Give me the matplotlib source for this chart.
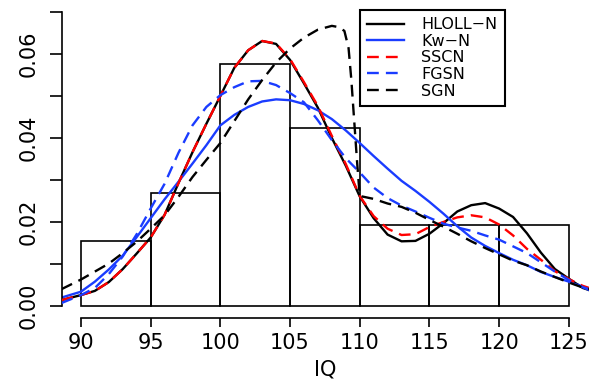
import matplotlib
matplotlib.use("Agg")
import matplotlib.pyplot as plt

# histogram of IQ (density scale)
bin_edges = [90, 95, 100, 105, 110, 115, 120, 125]
bin_density = [0.0154, 0.0269, 0.0577, 0.0423, 0.0192, 0.0192, 0.0192]

# fitted densities
iq = [88.6, 90, 91, 92, 93, 94, 95, 96, 97, 98, 99, 100, 101, 102, 103, 104, 105,
      106, 107, 108, 109, 110, 111, 112, 113, 114, 115, 116, 117, 118, 119, 120,
      121, 122, 123, 124, 125, 126, 126.45]
hloll_n = [0.0014, 0.0026, 0.0036, 0.0057, 0.0088, 0.0125, 0.0163, 0.0217, 0.0293,
           0.0366, 0.0434, 0.0500, 0.0567, 0.0609, 0.0631, 0.0624, 0.0586, 0.0530,
           0.0472, 0.0400, 0.0334, 0.0261, 0.0209, 0.0170, 0.0154, 0.0155, 0.0172,
           0.0197, 0.0225, 0.0240, 0.0245, 0.0232, 0.0212, 0.0173, 0.0127, 0.0088,
           0.0065, 0.0043, 0.0038]
sscn = [0.0014, 0.0026, 0.0036, 0.0057, 0.0088, 0.0125, 0.0163, 0.0217, 0.0293,
        0.0366, 0.0434, 0.0500, 0.0567, 0.0609, 0.0631, 0.0625, 0.0588, 0.0533,
        0.0476, 0.0405, 0.0338, 0.0262, 0.0214, 0.0184, 0.0169, 0.0171, 0.0188,
        0.0200, 0.0211, 0.0216, 0.0211, 0.0194, 0.0168, 0.0136, 0.0110, 0.0083,
        0.0064, 0.0048, 0.0043]
kw_n = [0.0020, 0.0034, 0.0058, 0.0087, 0.0120, 0.0164, 0.0209, 0.0254, 0.0296,
        0.0339, 0.0383, 0.0430, 0.0455, 0.0474, 0.0487, 0.0492, 0.0490, 0.0481,
        0.0466, 0.0445, 0.0418, 0.0388, 0.0357, 0.0327, 0.0298, 0.0274, 0.0248,
        0.0220, 0.0190, 0.0163, 0.0143, 0.0126, 0.0110, 0.0097, 0.0081, 0.0069,
        0.0058, 0.0045, 0.0038]
fgsn = [0.0007, 0.0026, 0.0043, 0.0076, 0.0118, 0.0171, 0.0232, 0.0291, 0.0365,
        0.0430, 0.0474, 0.0502, 0.0521, 0.0535, 0.0536, 0.0526, 0.0507, 0.0485,
        0.0442, 0.0395, 0.0352, 0.0318, 0.0282, 0.0257, 0.0239, 0.0225, 0.0210,
        0.0196, 0.0187, 0.0179, 0.0168, 0.0158, 0.0142, 0.0126, 0.0104, 0.0082,
        0.0062, 0.0045, 0.0040]
sgn_iq = [88.6, 90, 91, 92, 93, 94, 95, 96, 97, 98, 99, 100, 101, 102, 103, 104,
          105, 106, 107, 108, 108.5, 108.9, 109.2, 109.4, 109.6, 109.8, 110, 111,
          112, 113, 114, 115, 116, 117, 118, 119, 120, 121, 122, 123, 124, 125,
          126, 126.45]
sgn = [0.0040, 0.0063, 0.0082, 0.0101, 0.0126, 0.0153, 0.0184, 0.0216, 0.0260,
       0.0307, 0.0348, 0.0388, 0.0440, 0.0492, 0.0538, 0.0580, 0.0613, 0.0639,
       0.0658, 0.0667, 0.0664, 0.0655, 0.0614, 0.0538, 0.0443, 0.0348, 0.0262,
       0.0255, 0.0244, 0.0236, 0.0222, 0.0205, 0.0189, 0.0172, 0.0154, 0.0138,
       0.0123, 0.0108, 0.0097, 0.0082, 0.0069, 0.0056, 0.0044, 0.0040]

y_ticks = [0, 0.01, 0.02, 0.03, 0.04, 0.05, 0.06, 0.07]
y_labels = ['0.00', '', '0.02', '', '0.04', '', '0.06', '']
x_ticks = [90, 95, 100, 105, 110, 115, 120, 125]

blue = '#1a3cff'

fig = plt.figure(figsize=(5.89, 3.84), dpi=100)
ax = fig.add_axes([62/589, 66/384, 527/589, 318/384])

# histogram bars
widths = [bin_edges[i+1] - bin_edges[i] for i in range(len(bin_density))]
ax.bar(bin_edges[:-1], bin_density, width=widths, align='edge',
       facecolor='none', edgecolor='black', linewidth=1.2, zorder=1)

lw = 1.7
ax.plot(iq, hloll_n, color='black', lw=lw, label='HLOLL\u2212N', zorder=2)
ax.plot(iq, kw_n, color=blue, lw=lw, label='Kw\u2212N', zorder=2)
ax.plot(iq, sscn, color='red', lw=lw, dashes=(5, 3), label='SSCN', zorder=3)
ax.plot(iq, fgsn, color=blue, lw=lw, dashes=(5, 3), label='FGSN', zorder=3)
ax.plot(sgn_iq, sgn, color='black', lw=lw, dashes=(5, 3), label='SGN', zorder=3)

ax.set_xlim(88.64, 126.45)
ax.set_ylim(-0.00286, 0.07286)

for s in ['top', 'right']:
    ax.spines[s].set_visible(False)
ax.spines['left'].set_bounds(0, 0.07)
ax.spines['bottom'].set_bounds(90, 125)
ax.spines['left'].set_linewidth(1.2)
ax.spines['bottom'].set_linewidth(1.2)

ax.set_xticks(x_ticks)
ax.set_xticklabels([str(t) for t in x_ticks])
ax.set_yticks(y_ticks)
ax.set_yticklabels(y_labels, rotation=90, va='center')
ax.tick_params(axis='x', length=6.5, width=1.2, pad=4, labelsize=15)
ax.tick_params(axis='y', length=8.6, width=1.2, pad=8, labelsize=15)
ax.set_xlabel('IQ', fontsize=15, labelpad=5)

leg = ax.legend(loc='upper left', bbox_to_anchor=(360/589, 1 - 10/384),
                bbox_transform=fig.transFigure, borderaxespad=0,
                fontsize=11.5, handlelength=2.3, handletextpad=1.1,
                labelspacing=0.1, borderpad=0.45, fancybox=False,
                framealpha=1, edgecolor='black')
leg.get_frame().set_linewidth(1.5)

fig.savefig('out.png', dpi=100)
